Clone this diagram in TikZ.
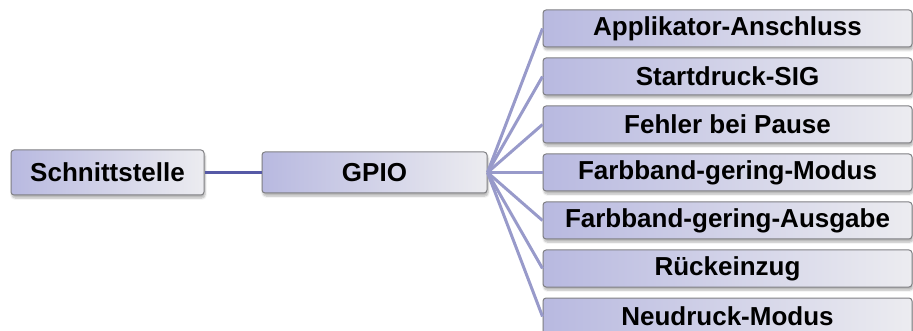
\documentclass[tikz,border=0pt]{standalone}
\usepackage{fontspec}
\setmainfont{Liberation Sans}
\usetikzlibrary{shadows.blur}
\definecolor{boxL}{RGB}{184,185,224}
\definecolor{boxM}{RGB}{222,222,236}
\definecolor{boxR}{RGB}{236,236,240}
\definecolor{boxD}{RGB}{128,128,132}
\definecolor{linkDark}{RGB}{86,89,166}
\definecolor{linkLight}{RGB}{152,154,202}
\tikzset{
  mapbox/.style={draw=boxD, line width=1pt, rounded corners=3pt,
    left color=boxL, middle color=boxM, right color=boxR, shading angle=90,
    inner sep=0pt, align=center,
    font=\fontsize{26}{30}\selectfont\bfseries,
    blur shadow={shadow xshift=1pt, shadow yshift=-3pt, shadow opacity=30, shadow blur steps=6}},
  leafbox/.style={mapbox, minimum width=369pt, minimum height=37pt},
  darklink/.style={draw=linkDark, line width=3.5pt},
  lightlink/.style={draw=linkLight, line width=3pt},
}
\begin{document}
\begin{tikzpicture}[x=1pt,y=-1pt]
\useasboundingbox (0,0) rectangle (913,331);
\node[mapbox, minimum width=193pt, minimum height=45pt] (si) at (107.5,172.5) {Schnittstelle};
\node[mapbox, minimum width=225pt, minimum height=41pt] (gpio) at (374.5,172.5) {GPIO};
\node[leafbox] (r1) at (727.5,28.5) {Applikator-Anschluss};
\node[leafbox] (r2) at (727.5,76.5) {Startdruck-SIG};
\node[leafbox] (r3) at (727.5,124.5) {Fehler bei Pause};
\node[leafbox] (r4) at (727.5,172.5) {Farbband-gering-Modus};
\node[leafbox] (r5) at (727.5,220.5) {Farbband-gering-Ausgabe};
\node[leafbox] (r6) at (727.5,268.5) {Rückeinzug};
\node[leafbox] (r7) at (727.5,316.5) {Neudruck-Modus};
\draw[darklink] (si.east) -- (gpio.west);
\foreach \r in {r1,r2,r3,r4,r5,r6,r7}
  \draw[lightlink] (gpio.east) -- (\r.west);
\end{tikzpicture}
\end{document}
